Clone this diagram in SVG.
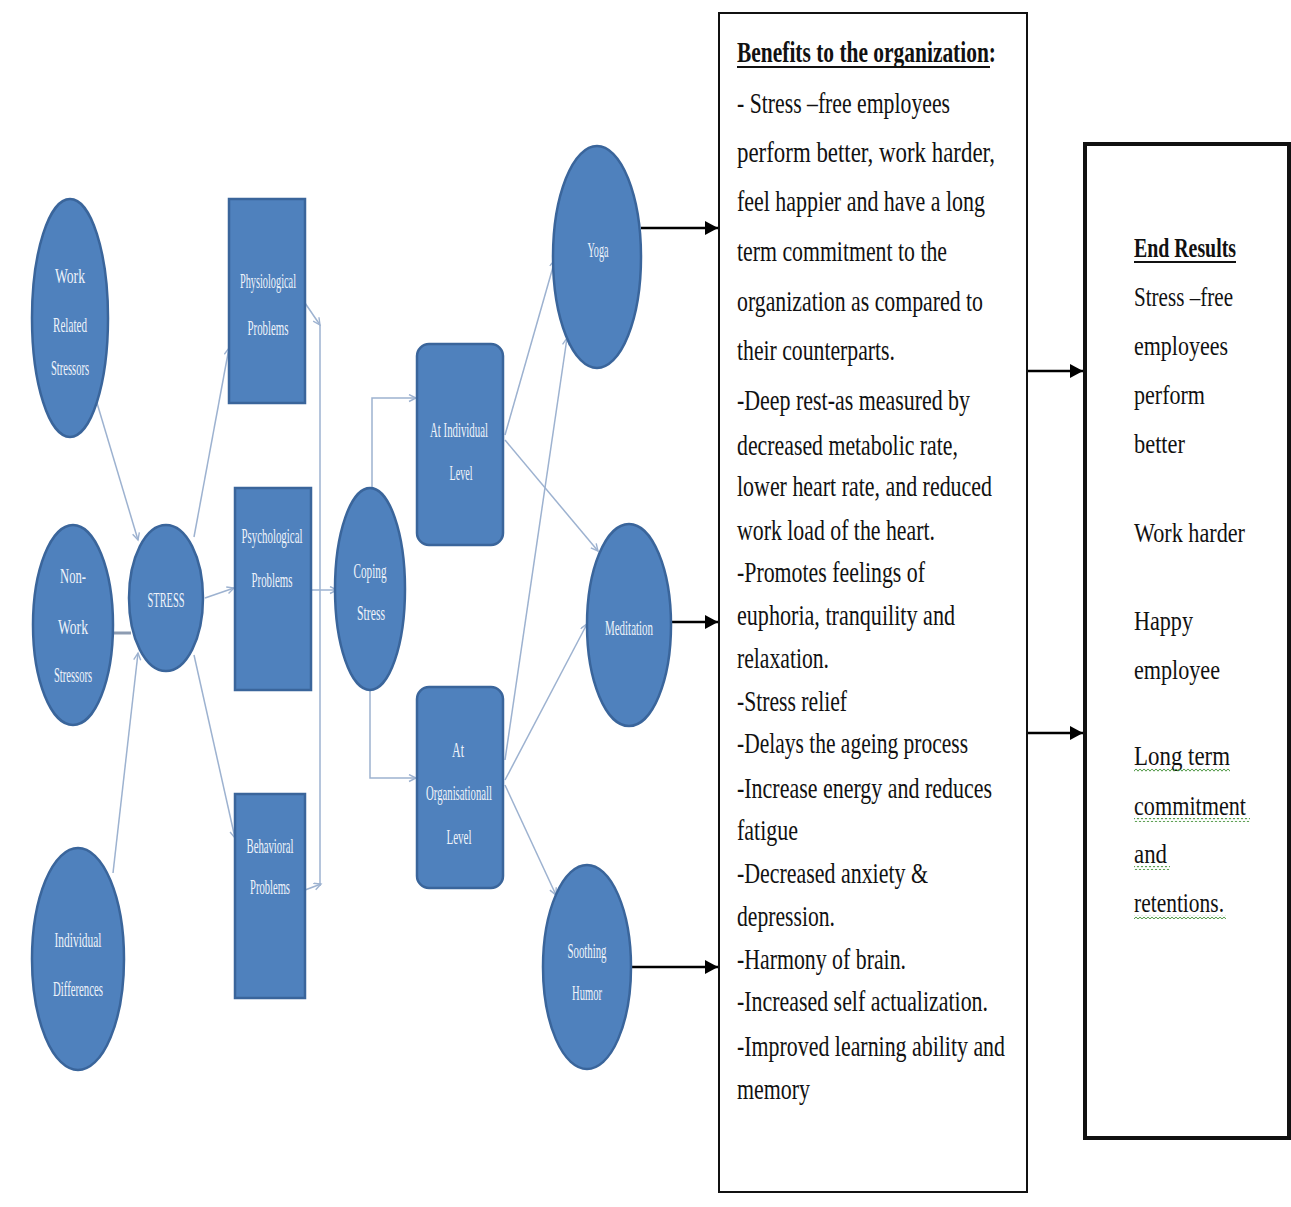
<svg xmlns="http://www.w3.org/2000/svg" width="1291" height="1207" viewBox="0 0 1291 1207">
<style>
.n{fill:#4F81BD;stroke:#3A659B;stroke-width:2.5}
.nt{font-family:"Liberation Serif","Times New Roman",serif;font-size:22px;fill:#EEF3FA;text-anchor:middle}
.c{fill:none;stroke:#9DB2D0;stroke-width:1.5}
.k{fill:none;stroke:#000;stroke-width:2.5}
.bt{font-family:"Liberation Serif","Times New Roman",serif;font-size:29px;fill:#111}
.et{font-family:"Liberation Serif","Times New Roman",serif;font-size:28px;fill:#111}
</style>
<defs>
<marker id="ao" markerUnits="userSpaceOnUse" markerWidth="10" markerHeight="10" refX="8" refY="4" orient="auto">
<path d="M1,0.5 L8,4 L1,7.5" fill="none" stroke="#9DB2D0" stroke-width="1.4"/>
</marker>
<marker id="ab" markerUnits="userSpaceOnUse" markerWidth="14" markerHeight="14" refX="13" refY="7" orient="auto">
<path d="M0,0 L13,7 L0,14 Z" fill="#000"/>
</marker>
<pattern id="wv" width="4" height="4" patternUnits="userSpaceOnUse">
<path d="M0,0.8 L2,3.2 L4,0.8" fill="none" stroke="#3c8c30" stroke-width="0.9"/>
</pattern>
</defs>
<rect width="1291" height="1207" fill="#fff"/>

<g id="connectors">
<line class="c" x1="97" y1="403" x2="138" y2="540" marker-end="url(#ao)"/>
<line x1="113" y1="633" x2="131" y2="633" stroke="#8D9CB2" stroke-width="3"/>
<line class="c" x1="113" y1="873" x2="138" y2="653" marker-end="url(#ao)"/>
<line class="c" x1="194" y1="537" x2="229" y2="348" marker-end="url(#ao)"/>
<line class="c" x1="205" y1="598" x2="234" y2="588" marker-end="url(#ao)"/>
<line class="c" x1="194" y1="655" x2="235" y2="838" marker-end="url(#ao)"/>
<line class="c" x1="305" y1="303" x2="320" y2="325" marker-end="url(#ao)"/>
<line class="c" x1="320" y1="325" x2="320" y2="886"/>
<line class="c" x1="305" y1="890" x2="321" y2="884" marker-end="url(#ao)"/>
<line class="c" x1="311" y1="590" x2="337" y2="590" marker-end="url(#ao)"/>
<polyline class="c" points="372,488 372,398 416,398" marker-end="url(#ao)"/>
<polyline class="c" points="370,690 370,778 416,778" marker-end="url(#ao)"/>
<line class="c" x1="505" y1="435" x2="555" y2="260" marker-end="url(#ao)"/>
<line class="c" x1="505" y1="440" x2="598" y2="551" marker-end="url(#ao)"/>
<line class="c" x1="505" y1="760" x2="567" y2="338" marker-end="url(#ao)"/>
<line class="c" x1="505" y1="780" x2="587" y2="624" marker-end="url(#ao)"/>
<line class="c" x1="505" y1="785" x2="556" y2="895" marker-end="url(#ao)"/>
<line class="k" x1="641" y1="228" x2="718" y2="228" marker-end="url(#ab)"/>
<line class="k" x1="672" y1="622" x2="718" y2="622" marker-end="url(#ab)"/>
<line class="k" x1="630" y1="967" x2="718" y2="967" marker-end="url(#ab)"/>
<line class="k" x1="1027" y1="371" x2="1083" y2="371" marker-end="url(#ab)"/>
<line class="k" x1="1027" y1="733" x2="1083" y2="733" marker-end="url(#ab)"/>
</g>

<g id="work-related-stressors">
<ellipse class="n" cx="70" cy="318" rx="38" ry="119"/>
<text class="nt" x="70" y="283" textLength="30" lengthAdjust="spacingAndGlyphs">Work</text>
<text class="nt" x="70" y="332" textLength="34" lengthAdjust="spacingAndGlyphs">Related</text>
<text class="nt" x="70" y="375" textLength="38" lengthAdjust="spacingAndGlyphs">Stressors</text>
</g>
<g id="non-work-stressors">
<ellipse class="n" cx="73" cy="625" rx="40" ry="100"/>
<text class="nt" x="73" y="583" textLength="26" lengthAdjust="spacingAndGlyphs">Non-</text>
<text class="nt" x="73" y="634" textLength="30" lengthAdjust="spacingAndGlyphs">Work</text>
<text class="nt" x="73" y="682" textLength="38" lengthAdjust="spacingAndGlyphs">Stressors</text>
</g>
<g id="individual-differences">
<ellipse class="n" cx="78" cy="959" rx="46" ry="111"/>
<text class="nt" x="78" y="947" textLength="47" lengthAdjust="spacingAndGlyphs">Individual</text>
<text class="nt" x="78" y="996" textLength="50" lengthAdjust="spacingAndGlyphs">Differences</text>
</g>
<g id="stress">
<ellipse class="n" cx="166" cy="598" rx="37" ry="73"/>
<text class="nt" x="166" y="607" textLength="37" lengthAdjust="spacingAndGlyphs">STRESS</text>
</g>
<g id="physiological-problems">
<rect class="n" x="229" y="199" width="76" height="204"/>
<text class="nt" x="268" y="288" textLength="56" lengthAdjust="spacingAndGlyphs">Physiological</text>
<text class="nt" x="268" y="335" textLength="41" lengthAdjust="spacingAndGlyphs">Problems</text>
</g>
<g id="psychological-problems">
<rect class="n" x="235" y="488" width="76" height="202"/>
<text class="nt" x="272" y="543" textLength="61" lengthAdjust="spacingAndGlyphs">Psychological</text>
<text class="nt" x="272" y="587" textLength="41" lengthAdjust="spacingAndGlyphs">Problems</text>
</g>
<g id="behavioral-problems">
<rect class="n" x="235" y="794" width="70" height="204"/>
<text class="nt" x="270" y="853" textLength="47" lengthAdjust="spacingAndGlyphs">Behavioral</text>
<text class="nt" x="270" y="894" textLength="40" lengthAdjust="spacingAndGlyphs">Problems</text>
</g>
<g id="coping-stress">
<ellipse class="n" cx="370" cy="589" rx="35" ry="101"/>
<text class="nt" x="370" y="578" textLength="33" lengthAdjust="spacingAndGlyphs">Coping</text>
<text class="nt" x="371" y="620" textLength="28" lengthAdjust="spacingAndGlyphs">Stress</text>
</g>
<g id="at-individual-level">
<rect class="n" x="417" y="344" width="86" height="201" rx="12"/>
<text class="nt" x="459" y="437" textLength="58" lengthAdjust="spacingAndGlyphs">At Individual</text>
<text class="nt" x="461" y="480" textLength="23" lengthAdjust="spacingAndGlyphs">Level</text>
</g>
<g id="at-organisational-level">
<rect class="n" x="417" y="687" width="86" height="201" rx="12"/>
<text class="nt" x="458" y="757" textLength="12" lengthAdjust="spacingAndGlyphs">At</text>
<text class="nt" x="459" y="800" textLength="66" lengthAdjust="spacingAndGlyphs">Organisationall</text>
<text class="nt" x="459" y="844" textLength="25" lengthAdjust="spacingAndGlyphs">Level</text>
</g>
<g id="yoga">
<ellipse class="n" cx="597" cy="257" rx="44" ry="111"/>
<text class="nt" x="598" y="257" textLength="21" lengthAdjust="spacingAndGlyphs">Yoga</text>
</g>
<g id="meditation">
<ellipse class="n" cx="629" cy="625" rx="42" ry="101"/>
<text class="nt" x="629" y="635" textLength="48" lengthAdjust="spacingAndGlyphs">Meditation</text>
</g>
<g id="soothing-humor">
<ellipse class="n" cx="587" cy="967" rx="44" ry="102"/>
<text class="nt" x="587" y="958" textLength="39" lengthAdjust="spacingAndGlyphs">Soothing</text>
<text class="nt" x="587" y="1000" textLength="30" lengthAdjust="spacingAndGlyphs">Humor</text>
</g>

<g id="benefits">
<rect x="719" y="13" width="308" height="1179" fill="#fff" stroke="#111" stroke-width="2"/>
<text class="bt" x="737" y="62" font-weight="bold" textLength="259" lengthAdjust="spacingAndGlyphs">Benefits to the organization:</text>
<line x1="737" y1="67" x2="990" y2="67" stroke="#111" stroke-width="2"/>
<text class="bt" x="737" y="113" textLength="213" lengthAdjust="spacingAndGlyphs">- Stress –free employees</text>
<text class="bt" x="737" y="162" textLength="258" lengthAdjust="spacingAndGlyphs">perform better, work harder,</text>
<text class="bt" x="737" y="211" textLength="248" lengthAdjust="spacingAndGlyphs">feel happier and have a long</text>
<text class="bt" x="737" y="261" textLength="210" lengthAdjust="spacingAndGlyphs">term commitment to the</text>
<text class="bt" x="737" y="311" textLength="246" lengthAdjust="spacingAndGlyphs">organization as compared to</text>
<text class="bt" x="737" y="360" textLength="158" lengthAdjust="spacingAndGlyphs">their counterparts.</text>
<text class="bt" x="737" y="410" textLength="233" lengthAdjust="spacingAndGlyphs">-Deep rest-as measured by</text>
<text class="bt" x="737" y="455" textLength="221" lengthAdjust="spacingAndGlyphs">decreased metabolic rate,</text>
<text class="bt" x="737" y="496" textLength="255" lengthAdjust="spacingAndGlyphs">lower heart rate, and reduced</text>
<text class="bt" x="737" y="540" textLength="198" lengthAdjust="spacingAndGlyphs">work load of the heart.</text>
<text class="bt" x="737" y="582" textLength="188" lengthAdjust="spacingAndGlyphs">-Promotes feelings of</text>
<text class="bt" x="737" y="625" textLength="218" lengthAdjust="spacingAndGlyphs">euphoria, tranquility and</text>
<text class="bt" x="737" y="668" textLength="92" lengthAdjust="spacingAndGlyphs">relaxation.</text>
<text class="bt" x="737" y="711" textLength="110" lengthAdjust="spacingAndGlyphs">-Stress relief</text>
<text class="bt" x="737" y="753" textLength="231" lengthAdjust="spacingAndGlyphs">-Delays the ageing process</text>
<text class="bt" x="737" y="798" textLength="255" lengthAdjust="spacingAndGlyphs">-Increase energy and reduces</text>
<text class="bt" x="737" y="840" textLength="61" lengthAdjust="spacingAndGlyphs">fatigue</text>
<text class="bt" x="737" y="883" textLength="191" lengthAdjust="spacingAndGlyphs">-Decreased anxiety &amp;</text>
<text class="bt" x="737" y="926" textLength="98" lengthAdjust="spacingAndGlyphs">depression.</text>
<text class="bt" x="737" y="969" textLength="169" lengthAdjust="spacingAndGlyphs">-Harmony of brain.</text>
<text class="bt" x="737" y="1011" textLength="251" lengthAdjust="spacingAndGlyphs">-Increased self actualization.</text>
<text class="bt" x="737" y="1056" textLength="268" lengthAdjust="spacingAndGlyphs">-Improved learning ability and</text>
<text class="bt" x="737" y="1099" textLength="73" lengthAdjust="spacingAndGlyphs">memory</text>
</g>

<g id="end-results">
<rect x="1085" y="144" width="204" height="994" fill="#fff" stroke="#111" stroke-width="4"/>
<text class="et" x="1134" y="257" font-weight="bold" textLength="102" lengthAdjust="spacingAndGlyphs">End Results</text>
<line x1="1134" y1="262" x2="1236" y2="262" stroke="#111" stroke-width="2"/>
<text class="et" x="1134" y="306" textLength="99" lengthAdjust="spacingAndGlyphs">Stress –free</text>
<text class="et" x="1134" y="355" textLength="94" lengthAdjust="spacingAndGlyphs">employees</text>
<text class="et" x="1134" y="404" textLength="71" lengthAdjust="spacingAndGlyphs">perform</text>
<text class="et" x="1134" y="453" textLength="51" lengthAdjust="spacingAndGlyphs">better</text>
<text class="et" x="1134" y="542" textLength="111" lengthAdjust="spacingAndGlyphs">Work harder</text>
<text class="et" x="1134" y="630" textLength="59" lengthAdjust="spacingAndGlyphs">Happy</text>
<text class="et" x="1134" y="679" textLength="86" lengthAdjust="spacingAndGlyphs">employee</text>
<text class="et" x="1134" y="765" textLength="96" lengthAdjust="spacingAndGlyphs">Long term</text>
<rect x="1134" y="768" width="96" height="4" fill="url(#wv)"/>
<text class="et" x="1134" y="815" textLength="112" lengthAdjust="spacingAndGlyphs">commitment</text>
<rect x="1134" y="818" width="116" height="4" fill="url(#wv)"/>
<text class="et" x="1134" y="863" textLength="33" lengthAdjust="spacingAndGlyphs">and</text>
<rect x="1134" y="866" width="36" height="4" fill="url(#wv)"/>
<text class="et" x="1134" y="912" textLength="90" lengthAdjust="spacingAndGlyphs">retentions.</text>
<rect x="1134" y="915" width="92" height="4" fill="url(#wv)"/>
</g>
</svg>
